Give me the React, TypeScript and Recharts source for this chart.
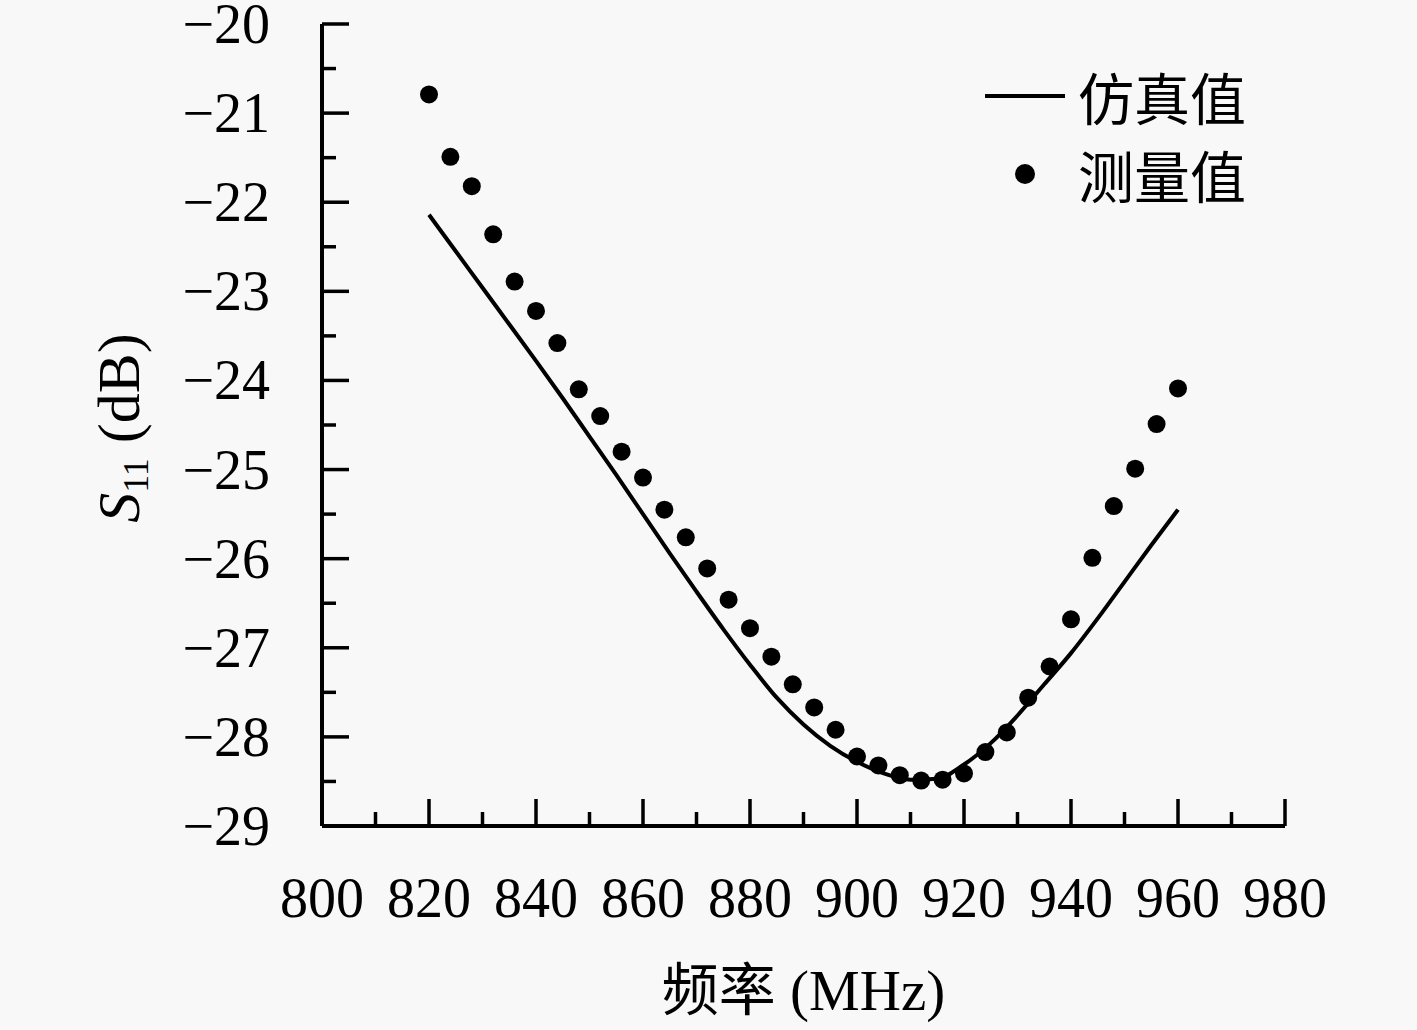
import React from "react";
import { ComposedChart, Line, Scatter, XAxis, YAxis, Legend, Label } from "recharts";

// simulated curve (仿真值)
const simFreq = [
  820, 825, 830, 835, 840, 845, 850, 855, 860, 865, 870, 875, 880, 885, 890,
  895, 900, 905, 910, 915, 920, 925, 930, 935, 940, 945, 950, 955, 960,
];
const simS11 = [
  -22.14, -22.55, -22.96, -23.37, -23.78, -24.2, -24.63, -25.06, -25.5, -25.94,
  -26.37, -26.79, -27.19, -27.56, -27.86, -28.1, -28.28, -28.41, -28.48, -28.47,
  -28.31, -28.07, -27.76, -27.41, -27.06, -26.67, -26.26, -25.85, -25.45,
];

// measured points (测量值)
const measFreq = [
  820, 824, 828, 832, 836, 840, 844, 848, 852, 856, 860, 864, 868, 872, 876,
  880, 884, 888, 892, 896, 900, 904, 908, 912, 916, 920, 924, 928, 932, 936,
  940, 944, 948, 952, 956, 960,
];
const measS11 = [
  -20.79, -21.49, -21.82, -22.36, -22.89, -23.22, -23.58, -24.1, -24.4, -24.8,
  -25.09, -25.45, -25.76, -26.11, -26.46, -26.78, -27.1, -27.41, -27.67, -27.92,
  -28.22, -28.32, -28.43, -28.49, -28.48, -28.41, -28.17, -27.95, -27.56, -27.21,
  -26.68, -25.99, -25.41, -24.99, -24.49, -24.09,
];

const xTicks = [
  800, 810, 820, 830, 840, 850, 860, 870, 880, 890, 900, 910, 920, 930, 940,
  950, 960, 970, 980,
];
const yTicks = [
  -29, -28.5, -28, -27.5, -27, -26.5, -26, -25.5, -25, -24.5, -24, -23.5, -23,
  -22.5, -22, -21.5, -21, -20.5, -20,
];

const seriesNames = ["仿真值", "测量值"];
const xTitle = "频率 (MHz)";

const SERIF = "'Liberation Serif', 'Noto Sans CJK SC', serif";
const CJK = "'Noto Sans CJK SC', 'Liberation Serif', sans-serif";
const INK = "#000";

const simData = simFreq.map((f, i) => ({ f, s: simS11[i] }));
const measData = measFreq.map((f, i) => ({ f, s: measS11[i] }));

function YTick(props: any) {
  const { x, y, payload } = props;
  const v = Number(payload.value);
  const major = Number.isInteger(v);
  return (
    <g>
      <line x1={x} y1={y} x2={x + (major ? 27 : 14)} y2={y} stroke={INK} strokeWidth={3.5} />
      {major && (
        <text x={x - 52} y={y} dy="0.34em" textAnchor="end" fontFamily={SERIF} fontSize={56} fill={INK}>
          {v < 0 ? `\u2212${Math.abs(v)}` : String(v)}
        </text>
      )}
    </g>
  );
}

function XTick(props: any) {
  const { x, y, payload } = props;
  const v = Number(payload.value);
  const major = v % 20 === 0;
  return (
    <g>
      <line x1={x} y1={y} x2={x} y2={y - (major ? 27 : 14)} stroke={INK} strokeWidth={3.5} />
      {major && (
        <text x={x} y={y + 91} textAnchor="middle" fontFamily={SERIF} fontSize={56} fill={INK}>
          {String(v)}
        </text>
      )}
    </g>
  );
}

function XTitle(props: any) {
  const vb = props.viewBox;
  return (
    <text x={vb.x + vb.width / 2} y={vb.y + 184} textAnchor="middle" fontFamily={SERIF} fontSize={57} fill={INK}>
      {xTitle}
    </text>
  );
}

function YTitle(props: any) {
  const vb = props.viewBox;
  const cx = vb.x + 47;
  const cy = vb.y + vb.height / 2 + 3;
  return (
    <text
      x={cx}
      y={cy}
      transform={`rotate(-90, ${cx}, ${cy})`}
      textAnchor="middle"
      dy="0.34em"
      fontFamily={SERIF}
      fontSize={60}
      fill={INK}
    >
      <tspan fontStyle="italic">S</tspan>
      <tspan fontSize={36} dy={9}>11</tspan>
      <tspan dy={-9}> (dB)</tspan>
    </text>
  );
}

function LegendBox() {
  return (
    <div style={{ fontFamily: CJK, fontSize: 56, color: INK, lineHeight: 1 }}>
      {seriesNames.map((name, i) => (
        <div key={name} style={{ display: "flex", alignItems: "center", height: 78 }}>
          <svg width={95} height={78}>
            {i === 0 ? (
              <line x1={2} y1={39} x2={82} y2={39} stroke={INK} strokeWidth={4} />
            ) : (
              <circle cx={42} cy={39} r={10} fill={INK} />
            )}
          </svg>
          <span>{name}</span>
        </div>
      ))}
    </div>
  );
}

export default function App() {
  return (
    <div
      style={{
        position: "absolute",
        left: 0,
        top: 0,
        width: 1417,
        height: 1030,
        background: "#f8f8f8",
      }}
    >
      <ComposedChart
        width={1417}
        height={1030}
        margin={{ top: 24, right: 132, bottom: 84, left: 72 }}
      >
        <XAxis
          type="number"
          dataKey="f"
          domain={[800, 980]}
          ticks={xTicks}
          interval={0}
          height={120}
          tickSize={0}
          tickMargin={0}
          tickLine={false}
          axisLine={{ stroke: INK, strokeWidth: 4 }}
          tick={XTick}
        >
          <Label content={XTitle} />
        </XAxis>
        <YAxis
          type="number"
          dataKey="s"
          domain={[-29, -20]}
          ticks={yTicks}
          interval={0}
          width={250}
          tickSize={0}
          tickMargin={0}
          tickLine={false}
          axisLine={{ stroke: INK, strokeWidth: 4 }}
          tick={YTick}
        >
          <Label content={YTitle} />
        </YAxis>
        <Legend
          layout="vertical"
          align="center"
          verticalAlign="middle"
          wrapperStyle={{ left: 983, top: 57, width: 320 }}
          content={LegendBox}
        />
        <Line
          data={simData}
          dataKey="s"
          name={seriesNames[0]}
          type="monotone"
          stroke={INK}
          strokeWidth={4}
          dot={false}
          activeDot={false}
          isAnimationActive={false}
        />
        <Scatter
          data={measData}
          dataKey="s"
          name={seriesNames[1]}
          fill={INK}
          shape={(p: any) => <circle cx={p.cx} cy={p.cy} r={9} fill={INK} />}
          isAnimationActive={false}
        />
      </ComposedChart>
    </div>
  );
}
